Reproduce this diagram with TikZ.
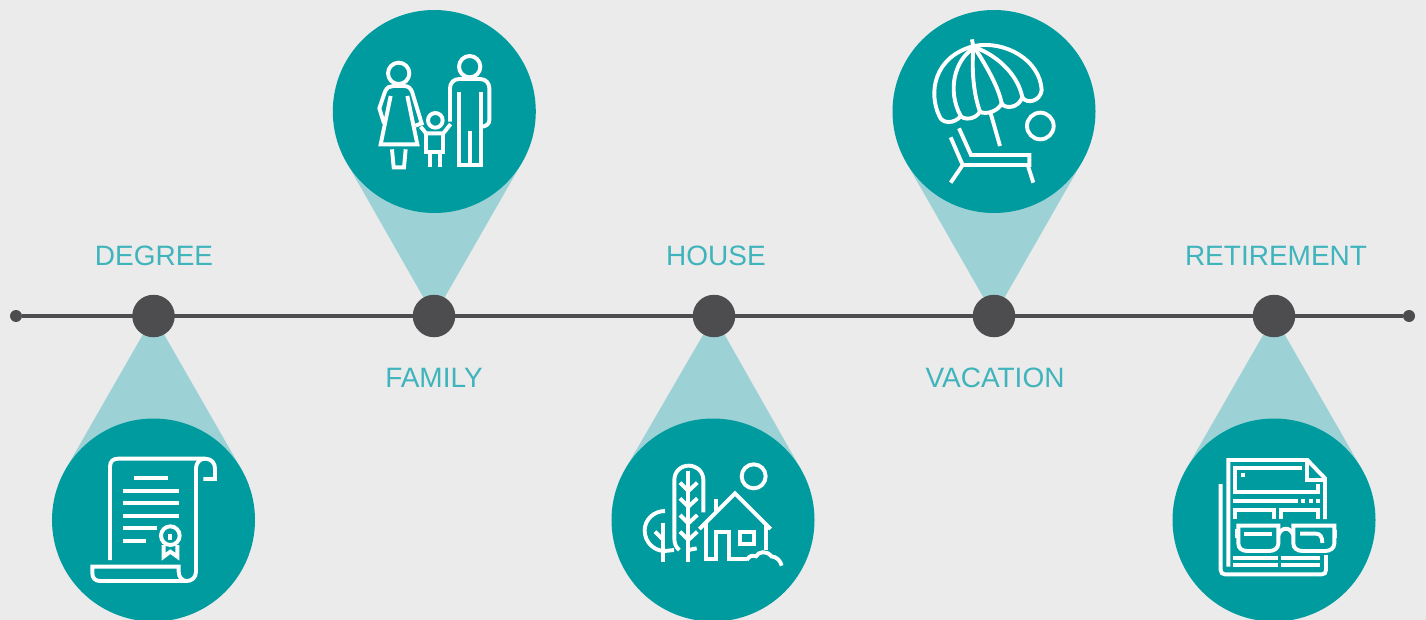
\documentclass[tikz,border=0pt]{standalone}
\usepackage{fontspec}
\setmainfont{Liberation Sans}
\usetikzlibrary{positioning, backgrounds}
\definecolor{pagegrey}{HTML}{EBEBEB}
\definecolor{pinteal}{HTML}{009B9E}
\definecolor{conelight}{HTML}{9CD2D6}
\definecolor{labelteal}{HTML}{3FB4BC}
\definecolor{axisgrey}{HTML}{4D4D4F}
\tikzset{
	pin/.style={circle, fill=pinteal, minimum size=203pt, inner sep=0pt, outer sep=0pt},
	marker/.style={circle, fill=axisgrey, minimum size=42.5pt, inner sep=0pt, outer sep=0pt},
	axisend/.style={circle, fill=axisgrey, minimum size=12pt, inner sep=0pt, outer sep=0pt},
	milestone/.style={text=labelteal, font=\fontsize{28}{30}\selectfont},
	cone/.style={fill=conelight},
	icon/.style={draw=white, line width=3.9pt, line join=miter},
	iconfill/.style={fill=white}
}

\begin{document}
\begin{tikzpicture}[x=1pt, y=-1pt]
	
	\useasboundingbox (0,0) rectangle (1426,620);
	
	% Timeline points
	\node[axisend] (start) at (16,316) {};
	\node[axisend] (end) at (1409,316) {};
	\node[marker] (degree) at (153.5,316) {};
	\node[marker] (family) at (434,316) {};
	\node[marker] (house) at (714,316) {};
	\node[marker] (vacation) at (994,316) {};
	\node[marker] (retirement) at (1274,316) {};
	
	% Pins
	\node[pin] (degreepin) at (153.5,520) {};
	\node[pin] (familypin) at (434.3,111.5) {};
	\node[pin] (housepin) at (713,520) {};
	\node[pin] (vacationpin) at (994,111.5) {};
	\node[pin] (retirementpin) at (1274,520) {};
	
	% Background, cones and axis
	\begin{pgfonlayer}{background}
		\fill[pagegrey] (0,0) rectangle (1426,620);
		\fill[cone] (degree.center) -- (degreepin.150) -- (degreepin.30) -- cycle;
		\fill[cone] (family.center) -- (familypin.210) -- (familypin.330) -- cycle;
		\fill[cone] (house.center) -- (housepin.150) -- (housepin.30) -- cycle;
		\fill[cone] (vacation.center) -- (vacationpin.210) -- (vacationpin.330) -- cycle;
		\fill[cone] (retirement.center) -- (retirementpin.150) -- (retirementpin.30) -- cycle;
		\draw[axisgrey, line width=4.5pt] (start) -- (end);
	\end{pgfonlayer}
	
	% Labels
	\node[milestone] (degreelabel) at (154,256) {DEGREE};
	\node[milestone] (familylabel) at (434,378) {FAMILY};
	\node[milestone] (houselabel) at (716,256) {HOUSE};
	\node[milestone] (vacationlabel) at (995,378) {VACATION};
	\node[milestone] (retirementlabel) at (1276,256) {RETIREMENT};
	
	% Diploma
	\begin{scope}[shift={(50,415)}, scale=1/3]
		\draw[icon] (180,435) -- (180,155) .. controls (180,138) and (190,131) .. (205,131) -- (465,131) .. controls (485,131) and (495,145) .. (495,160) -- (495,192) -- (460,192);
		\draw[icon] (465,131) .. controls (448,131) and (438,145) .. (438,160) -- (438,470) .. controls (438,488) and (425,498) .. (410,498) -- (150,498) .. controls (135,498) and (127,488) .. (127,475) -- (127,455) -- (386,455) -- (386,470) .. controls (386,488) and (398,498) .. (410,498);
		\draw[icon] (252,188) -- (354,188);
		\draw[icon] (219,228) -- (387,228);
		\draw[icon] (219,264) -- (387,264);
		\draw[icon] (219,303) -- (387,303);
		\draw[icon] (219,339) -- (321,339);
		\draw[icon] (219,378) -- (288,378);
		\draw[icon] (361,362) circle[radius=28];
		\fill[iconfill] (354,356) rectangle (367,375);
		\draw[icon] (341,390) -- (341,425) -- (361,410) -- (382,425) -- (382,390);
	\end{scope}
	
	% Family
	\begin{scope}[shift={(330,10)}, scale=1/3]
		\draw[icon] (206,190) circle[radius=32];
		\draw[icon] (162,340) -- (148,295) -- (165,245) .. controls (170,232) and (180,228) .. (190,228) -- (222,228) .. controls (235,228) and (242,235) .. (246,245) -- (275,340) -- (256,347);
		\draw[icon] (182,258) -- (152,403) -- (262,403) -- (232,258);
		\draw[icon] (186,418) -- (191,472) -- (222,472) -- (227,418);
		\draw[icon] (316,331) circle[radius=22];
		\draw[icon] (272,350) -- (288,370) -- (340,370) -- (362,342);
		\draw[icon] (288,370) -- (288,427) -- (340,427) -- (340,370);
		\draw[icon] (300,427) -- (300,470);
		\draw[icon] (330,427) -- (330,470);
		\draw[icon] (419,170) circle[radius=32];
		\draw[icon] (360,335) -- (360,235) .. controls (360,218) and (372,207) .. (388,207) -- (450,207) .. controls (468,207) and (478,220) .. (478,235) -- (478,330) .. controls (478,342) and (470,347) .. (458,350);
		\draw[icon] (386,247) -- (386,465) -- (453,465) -- (453,247);
		\draw[icon] (420,362) -- (420,470);
	\end{scope}
	
	% House and trees
	\begin{scope}[shift={(610,415)}, scale=1/3]
		\draw[icon] (208,405) .. controls (198,398) and (193,385) .. (193,370) -- (193,195) .. controls (193,170) and (212,152) .. (236,152) .. controls (260,152) and (280,170) .. (280,195) -- (280,292);
		\draw[icon] (235,168) -- (235,442);
		\draw[icon] (210,203) -- (235,228) -- (262,203);
		\draw[icon] (210,250) -- (235,275) -- (262,250);
		\draw[icon] (210,300) -- (235,325) -- (262,300);
		\draw[icon] (210,350) -- (235,375) -- (262,350);
		\draw[icon] (235,405) -- (260,400);
		\draw[icon] (165,288) .. controls (130,288) and (104,315) .. (104,346) .. controls (104,382) and (132,408) .. (165,408) -- (192,405);
		\draw[icon] (160,325) -- (160,442);
		\draw[icon] (135,350) -- (160,375);
		\draw[icon] (431,184) circle[radius=36];
		\draw[icon] (268,342) -- (375,235) -- (482,342);
		\draw[icon] (317,252) -- (317,290);
		\draw[icon] (288,325) -- (288,433) -- (318,433) -- (318,352) -- (358,352) -- (358,433) -- (410,433);
		\draw[icon] (468,325) -- (468,405);
		\draw[icon, line width=4.2pt] (390,350) rectangle (431,388);
		\draw[icon] (410,435) .. controls (418,422) and (428,420) .. (438,424) .. controls (445,410) and (470,405) .. (484,424) .. controls (500,425) and (512,438) .. (515,452);
	\end{scope}
	
	% Beach
	\begin{scope}[shift={(890,10)}, scale=1/3]
		\draw[icon] (246,88) -- (251,118);
		\draw[icon] (252,108) .. controls (345,90) and (450,150) .. (455,240) .. controls (452,272) and (412,285) .. (397,262) .. controls (385,295) and (345,298) .. (335,280) .. controls (325,305) and (285,315) .. (270,305) .. controls (255,330) and (222,330) .. (212,318) .. controls (195,342) and (155,342) .. (148,318) .. controls (115,250) and (130,140) .. (252,108) -- cycle;
		\draw[icon] (250,115) .. controls (195,150) and (170,240) .. (212,318);
		\draw[icon] (250,115) .. controls (245,180) and (250,250) .. (270,305);
		\draw[icon] (255,115) .. controls (290,170) and (325,230) .. (335,280);
		\draw[icon] (255,112) .. controls (330,140) and (385,200) .. (397,262);
		\draw[icon] (302,310) -- (330,408);
		\draw[icon] (451,348) circle[radius=40];
		\draw[icon] (207,355) -- (243,435) -- (418,435) -- (418,465) -- (218,465);
		\draw[icon] (182,382) -- (218,465) -- (182,518);
		\draw[icon] (413,465) -- (430,518);
	\end{scope}
	
	% Newspaper and glasses
	\begin{scope}[shift={(1170,415)}, scale=1/3]
		\draw[icon] (175,455) -- (175,135) -- (412,135) -- (465,190) -- (465,312);
		\draw[icon] (412,135) -- (412,195) -- (465,195);
		\draw[icon] (395,158) -- (195,158) -- (195,232) -- (443,232) -- (443,207);
		\fill[iconfill] (213,174) rectangle (225,186);
		\draw[icon] (189,258) -- (384,258);
		\fill[iconfill] (393,252) rectangle (405,264);
		\fill[iconfill] (417,252) rectangle (429,264);
		\fill[iconfill] (438,252) rectangle (450,264);
		\draw[icon] (195,312) -- (195,285) -- (313,285) -- (313,312);
		\draw[icon] (333,312) -- (333,285) -- (445,285) -- (445,312);
		\draw[icon] (152,207) -- (152,465) .. controls (152,474) and (158,478) .. (165,478) -- (455,478) .. controls (463,478) and (468,474) .. (468,465) -- (468,420);
		\draw[icon] (205,332) -- (325,332) -- (325,385) .. controls (325,400) and (312,408) .. (298,408) -- (232,408) .. controls (216,408) and (205,400) .. (205,385) -- cycle;
		\draw[icon] (325,360) .. controls (335,335) and (360,335) .. (370,360);
		\draw[icon] (370,332) -- (493,332) -- (493,385) .. controls (493,400) and (480,408) .. (465,408) -- (398,408) .. controls (382,408) and (370,400) .. (370,385) -- cycle;
		\fill[iconfill] (195,342) rectangle (205,368);
		\fill[iconfill] (493,345) rectangle (501,370);
		\draw[icon] (222,356) -- (306,356);
		\draw[icon] (390,356) -- (438,356) .. controls (450,356) and (457,365) .. (457,384);
		\draw[icon] (189,428) -- (324,428);
		\draw[icon] (333,428) -- (450,428);
		\draw[icon] (189,450) -- (324,450);
		\draw[icon] (333,450) -- (450,450);
	\end{scope}
	
\end{tikzpicture}
\end{document}
